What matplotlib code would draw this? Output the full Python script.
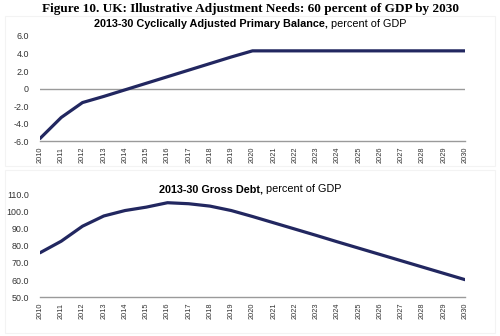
import matplotlib
matplotlib.use('Agg')
import matplotlib.pyplot as plt
from matplotlib.patches import Rectangle

years = list(range(2010, 2031))
year_labels = [str(y) for y in years]

# cyclically adjusted primary balance, percent of GDP
capb = [-5.7, -3.3, -1.6, -0.9, -0.15, 0.6, 1.35, 2.1, 2.85, 3.6, 4.3,
        4.3, 4.3, 4.3, 4.3, 4.3, 4.3, 4.3, 4.3, 4.3, 4.3]

# gross debt, percent of GDP
debt = [76.0, 82.8, 91.6, 97.6, 100.8, 102.8, 105.4, 104.8, 103.4, 100.8, 97.3,
        93.6, 89.9, 86.2, 82.4, 78.7, 75.0, 71.3, 67.6, 63.9, 60.2]

line_col = '#222760'
grid_col = '#9a9a9a'
text_col = '#333333'

fig = plt.figure(figsize=(5.0, 3.36), dpi=100)

fig.text(0.5, 0.972, 'Figure 10. UK: Illustrative Adjustment Needs: 60 percent of GDP by 2030',
         ha='center', va='center', family='Liberation Serif', weight='bold', fontsize=9.5)

# faint panel frames
for (x0, y0, x1, y1) in [(5, 16, 495, 166), (5, 170, 495, 333)]:
    fig.add_artist(Rectangle((x0 / 500, 1 - y1 / 336), (x1 - x0) / 500, (y1 - y0) / 336,
                             transform=fig.transFigure, fill=False,
                             edgecolor='#f3f3f3', lw=0.8))


def panel(ax, vals, ylo, yhi, ystep, fmt, title_bold, title_rest, title_y):
    ax.plot(years, vals, color=line_col, lw=2.3, solid_capstyle='round', zorder=3)
    ax.set_xlim(2010, 2030)
    ax.set_ylim(ylo, yhi)
    ticks = list(range(ylo, yhi + 1, ystep))
    ax.set_yticks(ticks)
    ax.set_yticklabels([fmt(t) for t in ticks])
    ax.set_xticks(years)
    ax.set_xticklabels(year_labels, rotation=90)
    for s in ['top', 'right', 'left']:
        ax.spines[s].set_visible(False)
    ax.spines['bottom'].set_color(grid_col)
    ax.spines['bottom'].set_linewidth(1.0)
    ax.tick_params(length=0, labelcolor=text_col)
    ax.tick_params(axis='x', labelsize=5.3, pad=4)
    ax.tick_params(axis='y', labelsize=6.4, pad=8)
    for lab in ax.get_xticklabels() + ax.get_yticklabels():
        lab.set_family('Liberation Sans')
    t1 = fig.text(0, title_y, title_bold, ha='left', va='center',
                  family='Liberation Sans', weight='bold', fontsize=7.8)
    t2 = fig.text(0, title_y, title_rest, ha='left', va='center',
                  family='Liberation Sans', fontsize=7.8)
    fig.canvas.draw()
    r = fig.canvas.get_renderer()
    w1 = t1.get_window_extent(r).width / fig.bbox.width
    w2 = t2.get_window_extent(r).width / fig.bbox.width
    x0 = 0.5 - (w1 + w2) / 2
    t1.set_x(x0)
    t2.set_x(x0 + w1)


ax1 = fig.add_axes([0.08, 0.58, 0.85, 0.313])
ax1.axhline(0, color=grid_col, lw=1.0, zorder=1)
panel(ax1, capb, -6, 6, 2, lambda v: '0' if v == 0 else '%.1f' % v,
      '2013-30 Cyclically Adjusted Primary Balance,', ' percent of GDP', 0.930)

ax2 = fig.add_axes([0.08, 0.116, 0.85, 0.304])
panel(ax2, debt, 50, 110, 10, lambda v: '%.1f' % v,
      '2013-30 Gross Debt,', ' percent of GDP', 0.437)

fig.savefig('out.png', dpi=100)
